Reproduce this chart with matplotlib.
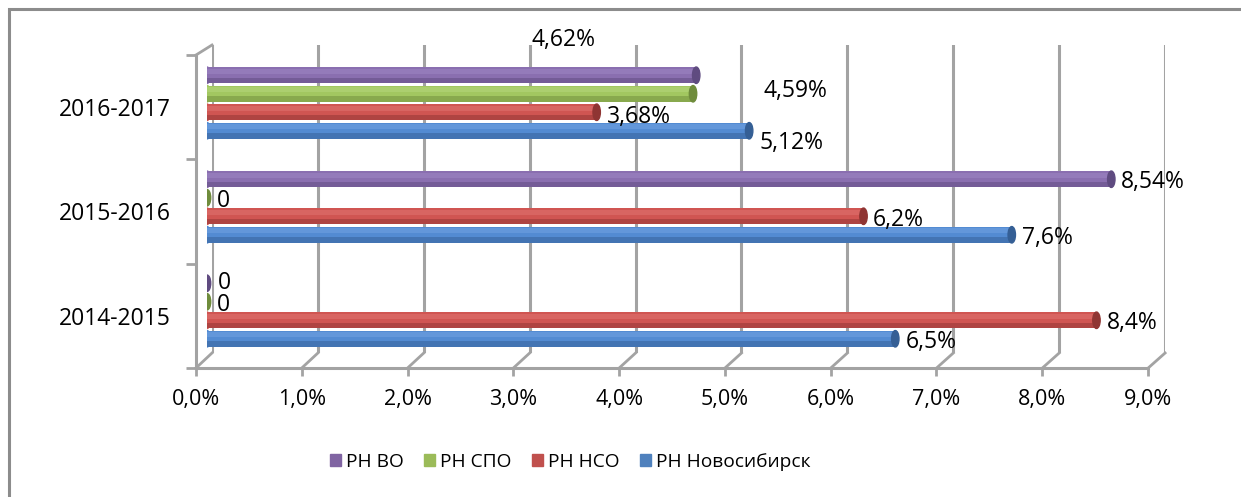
import matplotlib
matplotlib.use("Agg")
import matplotlib.pyplot as plt
from matplotlib.patches import Ellipse, Patch, Rectangle
from matplotlib.lines import Line2D

# data (percent)
periods = ["2014-2015", "2015-2016", "2016-2017"]
series = ["РН ВО", "РН СПО", "РН НСО", "РН Новосибирск"]
rn_vo = [0, 8.54, 4.62]
rn_spo = [0, 0, 4.59]
rn_nso = [8.4, 6.2, 3.68]
rn_nsk = [6.5, 7.6, 5.12]
x_ticks = list(range(10))

values = [rn_vo, rn_spo, rn_nso, rn_nsk]
legend_colors = ["#8064A2", "#9BBB59", "#C0504D", "#4F81BD"]
bar_colors = ["#8a6fb0", "#a2c760", "#d05552", "#538bd2"]
dark_colors = ["#5f4b80", "#6f8c3c", "#8f3533", "#355f95"]
light_colors = ["#9c84c2", "#b3d57a", "#de716e", "#6ea0e0"]

# label offsets in pixels (dx from bar end, dy downwards from bar centre)
label_off = {
    (0, 2): (-165, -35),
    (1, 2): (70, -3),
    (2, 2): (10, 5),
    (3, 2): (10, 12),
    (2, 1): (9, 4),
    (0, 0): (11, 0),
}

W, H = 1241, 497
GRID = "#a3a3a3"
plt.rcParams["font.family"] = ["Open Sans", "DejaVu Sans"]


def rect(x0, y0, x1, y1):
    return [x0 / W, 1 - y1 / H, (x1 - x0) / W, (y1 - y0) / H]


def lbl(v):
    if v == 0:
        return "0"
    return f"{v:g}".replace(".", ",") + "%"


fig = plt.figure(figsize=(W / 100, H / 100), dpi=100)

# outer frame
fig.add_artist(Rectangle((9 / W, -0.05), 1.2, 1 - 9 / H + 0.05, transform=fig.transFigure,
                         fill=False, edgecolor="#8c8c8c", lw=2.2))

# back wall with gridlines
ax_back = fig.add_axes(rect(212, 45, 1165, 353))
ax_back.set_xlim(0, 9)
ax_back.set_ylim(0, 1)
for t in x_ticks:
    ax_back.axvline(t, color=GRID, lw=2.2)
ax_back.axis("off")

# front axis: spines, ticks and labels
ax = fig.add_axes(rect(196, 55, 1148, 368))
ax.patch.set_alpha(0)
ax.set_xlim(0, 9)
ax.set_ylim(-0.5, 2.5)
ax.set_xticks(x_ticks)
ax.set_xticklabels([f"{t},0%" for t in x_ticks], fontsize=15.5)
ax.set_yticks(range(len(periods)))
ax.set_yticklabels(periods, fontsize=16.5)
ax.set_yticks([-0.5, 0.5, 1.5, 2.5], minor=True)
ax.tick_params(axis="y", which="major", length=0, pad=18)
ax.tick_params(axis="y", which="minor", length=7, width=2, color=GRID)
ax.tick_params(axis="x", length=6, width=2, color=GRID, pad=9)
for s in ["top", "right"]:
    ax.spines[s].set_visible(False)
for s in ["left", "bottom"]:
    ax.spines[s].set_color(GRID)
    ax.spines[s].set_linewidth(2.2)

# depth connectors between front axis and back wall
for t in x_ticks:
    xf = (196 + 105.8 * t) / W
    xb = (212 + 105.9 * t) / W
    fig.add_artist(Line2D([xf, xb], [1 - 368 / H, 1 - 353 / H], color=GRID, lw=2,
                          transform=fig.transFigure))
fig.add_artist(Line2D([196 / W, 212 / W], [1 - 55 / H, 1 - 45 / H], color=GRID, lw=2,
                      transform=fig.transFigure))

# bars
axb = fig.add_axes(rect(207, 55, 1160, 368))
axb.patch.set_alpha(0)
axb.set_xlim(0, 9)
axb.set_ylim(-0.548, 2.4615)
axb.axis("off")
h = 0.158
pitch = 0.178
cap_w = 0.07
for i, vals in enumerate(values):
    off = (1.5 - i) * pitch
    for j, v in enumerate(vals):
        y = j + off
        if v > 0:
            axb.barh(y, v, height=h, color=bar_colors[i], lw=0, zorder=2)
            axb.barh(y - h * 0.32, v, height=h * 0.36, color=dark_colors[i], lw=0,
                     alpha=0.5, zorder=3)
            axb.barh(y + h * 0.25, v, height=h * 0.3, color=light_colors[i], lw=0,
                     alpha=0.6, zorder=3)
            axb.add_patch(Ellipse((0, y), cap_w, h, color=bar_colors[i], zorder=1))
        axb.add_patch(Ellipse((v, y), cap_w, h, color=dark_colors[i], zorder=4))
        dx, dy = label_off.get((i, j), (10, 3))
        axb.annotate(lbl(v), (v, y), xytext=(dx, -dy), textcoords="offset pixels",
                     ha="left", va="center", fontsize=16.5, color="black", zorder=5)

handles = [Patch(color=c) for c in legend_colors]
fig.legend(handles, series, loc="center", bbox_to_anchor=(570 / W, 1 - 462 / H), ncol=4,
           frameon=False, fontsize=13.8, handlelength=0.6, handleheight=0.6,
           handletextpad=0.25, columnspacing=1.05)

fig.savefig("out.png", dpi=100)
